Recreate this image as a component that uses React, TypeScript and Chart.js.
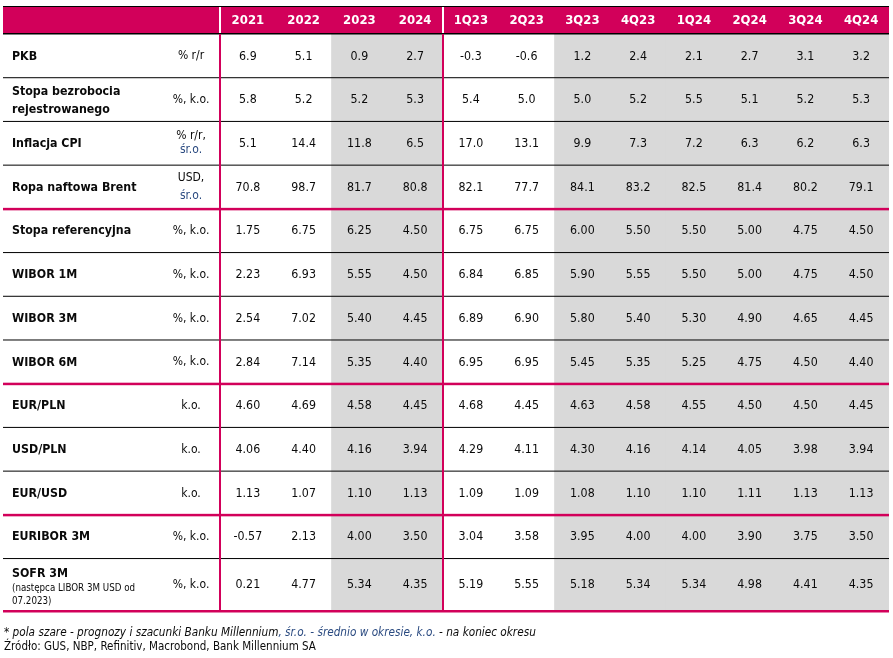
import React, { useEffect, useRef } from "react";
import { Chart, registerables } from "chart.js";

Chart.register(...registerables);

// ---- data ----
const columns = ["2021", "2022", "2023", "2024", "1Q23", "2Q23", "3Q23", "4Q23", "1Q24", "2Q24", "3Q24", "4Q24"];
const forecastColumns = [false, false, true, true, false, false, true, true, true, true, true, true];

const rowLabels = [
  ["PKB"],
  ["Stopa bezrobocia", "rejestrowanego"],
  ["Inflacja CPI"],
  ["Ropa naftowa Brent"],
  ["Stopa referencyjna"],
  ["WIBOR 1M"],
  ["WIBOR 3M"],
  ["WIBOR 6M"],
  ["EUR/PLN"],
  ["USD/PLN"],
  ["EUR/USD"],
  ["EURIBOR 3M"],
  ["SOFR 3M"],
];
const rowSubLabels = [[], [], [], [], [], [], [], [], [], [], [], [], ["(następca LIBOR 3M USD od", "07.2023)"]];
const rowUnits = [
  ["% r/r"],
  ["%, k.o."],
  ["% r/r,", "śr.o."],
  ["USD,", "śr.o."],
  ["%, k.o."],
  ["%, k.o."],
  ["%, k.o."],
  ["%, k.o."],
  ["k.o."],
  ["k.o."],
  ["k.o."],
  ["%, k.o."],
  ["%, k.o."],
];

const pkb = [6.9, 5.1, 0.9, 2.7, -0.3, -0.6, 1.2, 2.4, 2.1, 2.7, 3.1, 3.2];
const bezrobocie = [5.8, 5.2, 5.2, 5.3, 5.4, 5.0, 5.0, 5.2, 5.5, 5.1, 5.2, 5.3];
const inflacja = [5.1, 14.4, 11.8, 6.5, 17.0, 13.1, 9.9, 7.3, 7.2, 6.3, 6.2, 6.3];
const brent = [70.8, 98.7, 81.7, 80.8, 82.1, 77.7, 84.1, 83.2, 82.5, 81.4, 80.2, 79.1];
const stopaRef = [1.75, 6.75, 6.25, 4.5, 6.75, 6.75, 6.0, 5.5, 5.5, 5.0, 4.75, 4.5];
const wibor1m = [2.23, 6.93, 5.55, 4.5, 6.84, 6.85, 5.9, 5.55, 5.5, 5.0, 4.75, 4.5];
const wibor3m = [2.54, 7.02, 5.4, 4.45, 6.89, 6.9, 5.8, 5.4, 5.3, 4.9, 4.65, 4.45];
const wibor6m = [2.84, 7.14, 5.35, 4.4, 6.95, 6.95, 5.45, 5.35, 5.25, 4.75, 4.5, 4.4];
const eurpln = [4.6, 4.69, 4.58, 4.45, 4.68, 4.45, 4.63, 4.58, 4.55, 4.5, 4.5, 4.45];
const usdpln = [4.06, 4.4, 4.16, 3.94, 4.29, 4.11, 4.3, 4.16, 4.14, 4.05, 3.98, 3.94];
const eurusd = [1.13, 1.07, 1.1, 1.13, 1.09, 1.09, 1.08, 1.1, 1.1, 1.11, 1.13, 1.13];
const euribor3m = [-0.57, 2.13, 4.0, 3.5, 3.04, 3.58, 3.95, 4.0, 4.0, 3.9, 3.75, 3.5];
const sofr3m = [0.21, 4.77, 5.34, 4.35, 5.19, 5.55, 5.18, 5.34, 5.34, 4.98, 4.41, 4.35];

const rowValues = [pkb, bezrobocie, inflacja, brent, stopaRef, wibor1m, wibor3m, wibor6m, eurpln, usdpln, eurusd, euribor3m, sofr3m];
const rowDecimals = [1, 1, 1, 1, 2, 2, 2, 2, 2, 2, 2, 2, 2];
// separator below row i is magenta
const magentaBelow = [false, false, false, true, false, false, false, true, false, false, true, false, true];

// ---- layout / style ----
const ROW_SPANS = [1, 1, 1, 1, 1, 1, 1, 1, 1, 1, 1, 1, 1.2];
const TOTAL = ROW_SPANS.reduce((a, b) => a + b, 0);
const MAGENTA = "#d2005a";
const GRAY = "#d9d9d9";
const NAVY = "#2a4a80";
const FONT = '"DejaVu Sans Condensed", "DejaVu Sans", sans-serif';
const TABLE_LEFT = 3;
const TABLE_RIGHT = 889;
const HEADER_TOP = 6;

const rowStarts: number[] = [];
{
  let acc = 0;
  for (const s of ROW_SPANS) {
    rowStarts.push(acc);
    acc += s;
  }
}

const tablePlugin = {
  id: "tablePlugin",
  afterDraw(chart: any) {
    const ctx = chart.ctx as CanvasRenderingContext2D;
    const xs = chart.scales.x;
    const ys = chart.scales.y;
    const area = chart.chartArea;
    const top = area.top;
    const bottom = area.bottom;
    const divX1 = area.left;
    const divX2 = (xs.getPixelForValue(3) + xs.getPixelForValue(4)) / 2;
    const unitX = 191;

    ctx.save();
    // header
    ctx.fillStyle = MAGENTA;
    ctx.fillRect(TABLE_LEFT, HEADER_TOP, TABLE_RIGHT - TABLE_LEFT, top - HEADER_TOP);
    ctx.fillStyle = "#ffffff";
    ctx.fillRect(divX1 - 1, HEADER_TOP, 2, top - HEADER_TOP);
    ctx.fillRect(divX2 - 1, HEADER_TOP, 2, top - HEADER_TOP);
    ctx.fillStyle = "#000";
    ctx.fillRect(TABLE_LEFT, HEADER_TOP, TABLE_RIGHT - TABLE_LEFT, 1);
    ctx.fillRect(TABLE_LEFT, top - 1, TABLE_RIGHT - TABLE_LEFT, 1.5);

    ctx.font = "bold 13px " + FONT;
    ctx.fillStyle = "#ffffff";
    ctx.textAlign = "center";
    ctx.textBaseline = "middle";
    columns.forEach((c, i) => {
      ctx.fillText(c, xs.getPixelForValue(i), (HEADER_TOP + top) / 2 + 0.5);
    });

    // row separators
    rowStarts.forEach((s, i) => {
      const yb = ys.getPixelForValue(s + ROW_SPANS[i]);
      if (magentaBelow[i]) {
        ctx.fillStyle = MAGENTA;
        ctx.fillRect(TABLE_LEFT, yb - 1, TABLE_RIGHT - TABLE_LEFT, 2.5);
      } else {
        ctx.fillStyle = "#000";
        ctx.fillRect(TABLE_LEFT, yb - 0.5, TABLE_RIGHT - TABLE_LEFT, 1);
      }
    });

    // vertical dividers
    ctx.fillStyle = MAGENTA;
    ctx.fillRect(divX1 - 1, top, 2, bottom - top + 1);
    ctx.fillRect(divX2 - 1, top, 2, bottom - top + 1);

    // rows
    rowStarts.forEach((s, r) => {
      const yTop = ys.getPixelForValue(s);
      const yBot = ys.getPixelForValue(s + ROW_SPANS[r]);
      const yc = (yTop + yBot) / 2;

      // label
      ctx.textAlign = "left";
      ctx.fillStyle = "#0a0a0a";
      ctx.font = "bold 12.3px " + FONT;
      const lab = rowLabels[r];
      const sub = rowSubLabels[r];
      if (sub.length) {
        ctx.fillText(lab[0], 12, yTop + 15);
        ctx.font = "9.7px " + FONT;
        sub.forEach((t, k) => ctx.fillText(t, 12, yTop + 30 + k * 13));
      } else if (lab.length === 2) {
        ctx.fillText(lab[0], 12, yc - 8);
        ctx.fillText(lab[1], 12, yc + 10);
      } else {
        ctx.fillText(lab[0], 12, yc + 0.5);
      }

      // unit
      ctx.textAlign = "center";
      ctx.font = "12px " + FONT;
      const u = rowUnits[r];
      if (u.length === 2) {
        const gap = r === 3 ? 18 : 14;
        [u[0], u[1]].forEach((t, k) => {
          ctx.fillStyle = t.startsWith("śr") ? NAVY : "#0a0a0a";
          ctx.fillText(t, unitX, yc + (k === 0 ? -gap / 2 : gap / 2) - 0.5);
        });
      } else {
        ctx.fillStyle = "#0a0a0a";
        ctx.fillText(u[0], unitX, yc + 0.5);
      }

      // values
      ctx.fillStyle = "#0a0a0a";
      ctx.font = "12.3px " + FONT;
      rowValues[r].forEach((v, c) => {
        ctx.fillText(v.toFixed(rowDecimals[r]), xs.getPixelForValue(c), yc + 0.5);
      });
    });

    // footnote
    ctx.textAlign = "left";
    ctx.textBaseline = "middle";
    ctx.font = "italic 11.7px " + FONT;
    const segs: [string, string][] = [
      ["* pola szare - prognozy i szacunki Banku Millennium", "#0a0a0a"],
      [", śr.o. - średnio w okresie, k.o.", NAVY],
      [" - na koniec okresu", "#0a0a0a"],
    ];
    let fx = 4;
    segs.forEach(([t, col]) => {
      ctx.fillStyle = col;
      ctx.fillText(t, fx, 633);
      fx += ctx.measureText(t).width;
    });
    ctx.font = "11.5px " + FONT;
    ctx.fillStyle = "#0a0a0a";
    ctx.fillText("Źródło: GUS, NBP, Refinitiv, Macrobond, Bank Millennium SA", 4, 647);
    ctx.restore();
  },
};

export default function App() {
  const ref = useRef<HTMLCanvasElement | null>(null);
  useEffect(() => {
    document.body.style.margin = "0";
    if (!ref.current) return;
    const chart = new Chart(ref.current, {
      type: "bar",
      data: {
        labels: columns,
        datasets: [
          {
            label: "Prognozy i szacunki",
            data: forecastColumns.map((f) => (f ? [0, TOTAL] : null)) as any,
            backgroundColor: GRAY,
            borderWidth: 0,
            barPercentage: 1,
            categoryPercentage: 1,
          },
        ],
      },
      options: {
        responsive: false,
        animation: false,
        devicePixelRatio: 1,
        layout: { padding: { left: 220, right: 893 - TABLE_RIGHT, top: 34, bottom: 658 - 611 } },
        plugins: { legend: { display: false }, tooltip: { enabled: false } },
        scales: {
          x: { type: "category", display: false, offset: true, grid: { offset: true } },
          y: { type: "linear", display: false, min: 0, max: TOTAL, reverse: true },
        },
      },
      plugins: [tablePlugin],
    });
    return () => chart.destroy();
  }, []);
  return (
    <div style={{ position: "absolute", left: 0, top: 0, width: 893, height: 658, background: "#fff" }}>
      <canvas ref={ref} width={893} height={658} style={{ display: "block" }} />
    </div>
  );
}
